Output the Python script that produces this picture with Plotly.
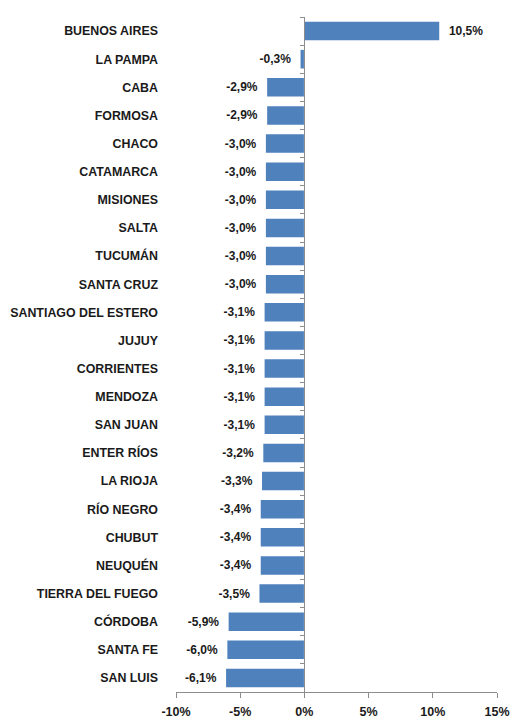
import plotly.graph_objects as go

provinces = ["BUENOS AIRES", "LA PAMPA", "CABA", "FORMOSA", "CHACO", "CATAMARCA",
             "MISIONES", "SALTA", "TUCUMÁN", "SANTA CRUZ", "SANTIAGO DEL ESTERO",
             "JUJUY", "CORRIENTES", "MENDOZA", "SAN JUAN", "ENTER RÍOS", "LA RIOJA",
             "RÍO NEGRO", "CHUBUT", "NEUQUÉN", "TIERRA DEL FUEGO", "CÓRDOBA",
             "SANTA FE", "SAN LUIS"]
values = [10.5, -0.3, -2.9, -2.9, -3.0, -3.0, -3.0, -3.0, -3.0, -3.0, -3.1,
          -3.1, -3.1, -3.1, -3.1, -3.2, -3.3, -3.4, -3.4, -3.4, -3.5, -5.9,
          -6.0, -6.1]
x_ticks = [-10, -5, 0, 5, 10, 15]
x_tick_labels = ["-10%", "-5%", "0%", "5%", "10%", "15%"]

font_family = "Liberation Sans, Arial, sans-serif"

pad = "\u00a0\u00a0"
labels = []
for v in values:
    s = f"{v:.1f}%".replace(".", ",")
    labels.append(pad + s if v >= 0 else s + pad)

fig = go.Figure()
fig.add_trace(go.Bar(
    y=provinces, x=values, orientation="h",
    marker=dict(color="#4F81BD", line=dict(width=0)),
    text=labels, texttemplate="%{text}", textposition="outside",
    textfont=dict(family=font_family, size=12, color="#1a1a1a", weight="bold"),
    cliponaxis=False, showlegend=False, hoverinfo="skip",
))
# invisible trace to build the zero-line axis with boundary ticks
fig.add_trace(go.Bar(
    y=provinces, x=[0] * len(provinces), orientation="h", yaxis="y2",
    marker=dict(color="rgba(0,0,0,0)"), showlegend=False, hoverinfo="skip",
))

fig.update_layout(
    width=512, height=718,
    margin=dict(l=176, r=15, t=17, b=26, autoexpand=False),
    paper_bgcolor="white", plot_bgcolor="white",
    separators=",.",
    bargap=0.34,
    barmode="overlay",
    font=dict(family=font_family, color="#1a1a1a"),
    xaxis=dict(
        range=[-10, 15], tickvals=x_ticks, ticktext=x_tick_labels,
        showgrid=False, zeroline=False, automargin=False,
        showline=True, linecolor="#8c8c8c", linewidth=1,
        ticks="outside", ticklen=5, tickcolor="#8c8c8c",
        ticklabelstandoff=3,
        tickfont=dict(family=font_family, size=12.5, color="#1a1a1a", weight="bold"),
    ),
    yaxis=dict(
        categoryorder="array", categoryarray=provinces,
        autorange="reversed", automargin=False,
        showline=False, showgrid=False, zeroline=False, ticks="",
        ticklabelstandoff=17,
        tickfont=dict(family=font_family, size=12.4, color="#1a1a1a", weight="bold"),
    ),
    yaxis2=dict(
        overlaying="y", anchor="free", position=0.4, side="left",
        categoryorder="array", categoryarray=provinces,
        autorange="reversed", matches="y", automargin=False,
        showline=True, linecolor="#8c8c8c", linewidth=1,
        ticks="outside", ticklen=4, tickcolor="#8c8c8c",
        tickson="boundaries", showticklabels=False, showgrid=False,
    ),
)

fig.write_html(
    "out.html",
    config={"displayModeBar": False, "staticPlot": True},
    post_script="document.body.style.margin='0';document.body.style.overflow='hidden';",
)
